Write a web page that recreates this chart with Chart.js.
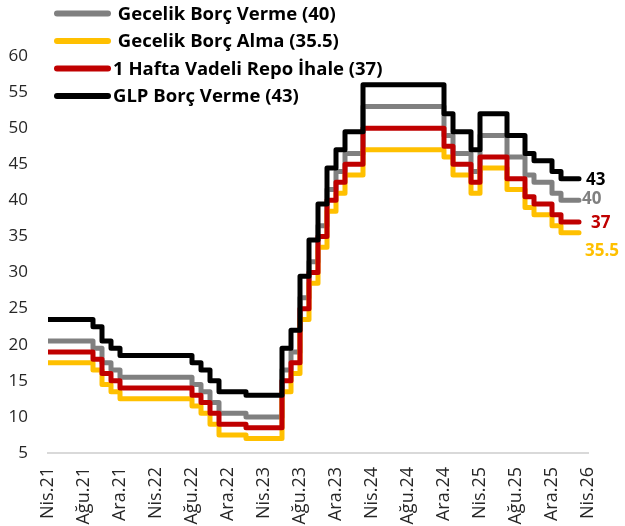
<!DOCTYPE html>
<html>
<head>
<meta charset="utf-8">
<script src="https://cdn.jsdelivr.net/npm/chart.js@4.4.1/dist/chart.umd.min.js"></script>
<style>
  html, body { margin: 0; padding: 0; background: #fff; }
  #wrap { width: 625px; height: 526px; }
</style>
</head>
<body>
<div id="wrap"><canvas id="myChart" width="625" height="526"></canvas></div>
<script>
'use strict';

// month in which each rate change shows up (value holds until the next one)
let changeDates = ['2021-04', '2021-09', '2021-10', '2021-11', '2021-12',
    '2022-08', '2022-09', '2022-10', '2022-11', '2023-02',
    '2023-06', '2023-07', '2023-08', '2023-09', '2023-10', '2023-11', '2023-12',
    '2024-01', '2024-03', '2024-12', '2025-01', '2025-03', '2025-04',
    '2025-07', '2025-09', '2025-10', '2025-12', '2026-01', '2026-03'];

let onLending = [20.5, 19.5, 17.5, 16.5, 15.5,
    14.5, 13.5, 12, 10.5, 10,
    16.5, 19, 26.5, 31.5, 36.5, 41.5, 44,
    46.5, 53, 49, 46.5, 44, 49,
    46, 43.5, 42.5, 41, 40, 40];

let onBorrowing = [17.5, 16.5, 14.5, 13.5, 12.5,
    11.5, 10.5, 9, 7.5, 7,
    13.5, 16, 23.5, 28.5, 33.5, 38.5, 41,
    43.5, 47, 46, 43.5, 41, 44.5,
    41.5, 39, 38, 36.5, 35.5, 35.5];

let repoRate = [19, 18, 16, 15, 14,
    13, 12, 10.5, 9, 8.5,
    15, 17.5, 25, 30, 35, 40, 42.5,
    45, 50, 47.5, 45, 42.5, 46,
    43, 40.5, 39.5, 38, 37, 37];

let glpLending = [23.5, 22.5, 20.5, 19.5, 18.5,
    17.5, 16.5, 15, 13.5, 13,
    19.5, 22, 29.5, 34.5, 39.5, 44.5, 47,
    49.5, 56, 52, 49.5, 47, 52,
    49, 46.5, 45.5, 44, 43, 43];

let seriesNames = [' Gecelik Borç Verme (40)', ' Gecelik Borç Alma (35.5)',
    '1 Hafta Vadeli Repo İhale (37)', 'GLP Borç Verme (43)'];
let seriesColors = ['#808080', '#FFC000', '#C00000', '#000000'];

let tickLabels = ['Nis.21', 'Ağu.21', 'Ara.21', 'Nis.22', 'Ağu.22', 'Ara.22',
    'Nis.23', 'Ağu.23', 'Ara.23', 'Nis.24', 'Ağu.24', 'Ara.24',
    'Nis.25', 'Ağu.25', 'Ara.25', 'Nis.26'];

// months counted from Nis.21
function monthIndex(d) {
    let parts = d.split('-');
    return (Number(parts[0]) - 2021) * 12 + (Number(parts[1]) - 4);
}

function toPoints(values) {
    let pts = [];
    for (let i = 0; i < changeDates.length; i++) {
        pts.push({ x: monthIndex(changeDates[i]), y: values[i] });
    }
    return pts;
}

let allSeries = [onLending, onBorrowing, repoRate, glpLending];
let drawOrder = [4, 3, 2, 1]; // black on top
let datasets = [];
for (let i = 0; i < allSeries.length; i++) {
    datasets.push({
        label: seriesNames[i],
        data: toPoints(allSeries[i]),
        borderColor: seriesColors[i],
        backgroundColor: seriesColors[i],
        borderWidth: 5,
        stepped: 'before',
        pointRadius: 0,
        borderCapStyle: 'round',
        borderJoinStyle: 'round',
        order: drawOrder[i]
    });
}

// legend drawn over the plot, top left
const sideLegend = {
    id: 'sideLegend',
    afterDraw(chart) {
        let ctx = chart.ctx;
        let rowY = [13.5, 41, 68.5, 96];
        ctx.save();
        ctx.font = 'bold 18.5px "Open Sans"';
        ctx.textBaseline = 'middle';
        ctx.textAlign = 'left';
        chart.data.datasets.forEach((ds, i) => {
            ctx.strokeStyle = ds.borderColor;
            ctx.lineWidth = 6;
            ctx.lineCap = 'round';
            ctx.beginPath();
            ctx.moveTo(57, rowY[i]);
            ctx.lineTo(108, rowY[i]);
            ctx.stroke();
            ctx.fillStyle = '#000';
            ctx.fillText(ds.label, 113, rowY[i] + 1);
        });
        ctx.restore();
    }
};

// last value written at the end of each line
const endLabels = {
    id: 'endLabels',
    afterDatasetsDraw(chart) {
        let ctx = chart.ctx;
        let shift = [[3, -2], [6, 17], [12, 0], [7, 0]];
        ctx.save();
        ctx.font = 'bold 17px "Open Sans"';
        ctx.textBaseline = 'middle';
        ctx.textAlign = 'left';
        chart.data.datasets.forEach((ds, i) => {
            let meta = chart.getDatasetMeta(i);
            let last = meta.data[meta.data.length - 1];
            ctx.fillStyle = ds.borderColor;
            ctx.fillText(String(ds.data[ds.data.length - 1].y), last.x + shift[i][0], last.y + shift[i][1] + 1);
        });
        ctx.restore();
    }
};

let ctx = document.getElementById('myChart').getContext('2d');
let myChart = new Chart(ctx, {
    type: 'line',
    data: { datasets: datasets },
    plugins: [sideLegend, endLabels],
    options: {
        responsive: false,
        animation: false,
        devicePixelRatio: 1,
        layout: { padding: { left: 8, top: 56, right: 37, bottom: 0 } },
        plugins: {
            legend: { display: false },
            tooltip: { enabled: false }
        },
        scales: {
            x: {
                type: 'linear',
                min: 0,
                max: 60,
                grid: { display: false, drawTicks: false },
                border: { display: true, color: '#d9d9d9', width: 2 },
                afterFit: (scale) => { scale.height = 73; },
                afterBuildTicks: (scale) => {
                    scale.ticks = tickLabels.map((t, i) => ({ value: i * 4 }));
                },
                ticks: {
                    autoSkip: false,
                    minRotation: 90,
                    maxRotation: 90,
                    padding: 14,
                    color: '#262626',
                    font: { family: 'Open Sans', size: 18 },
                    callback: (value) => tickLabels[Math.round(value / 4)]
                }
            },
            y: {
                min: 5,
                max: 60,
                grid: { display: false, drawTicks: false },
                border: { display: false },
                afterFit: (scale) => { scale.width = 40; },
                ticks: {
                    stepSize: 5,
                    padding: 20,
                    color: '#262626',
                    font: { family: 'Open Sans', size: 17 }
                }
            }
        }
    }
});
</script>
</body>
</html>
